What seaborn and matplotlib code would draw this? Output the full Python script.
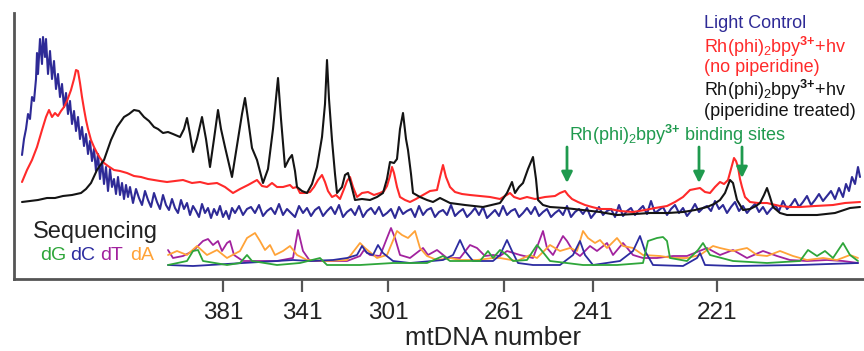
import matplotlib
matplotlib.use("Agg")
import matplotlib.pyplot as plt
import seaborn as sns
import pandas as pd

# ---------------- data (x: migration position, y: intensity) ----------------
light_pts = [(22, 124), (24, 140), (26, 150), (28, 165), (30, 160), (32, 182), (34, 178), (36, 200), (37, 226),
             (38, 205), (40, 240), (42, 215), (43, 242), (45, 222), (46, 240), (48, 205), (50, 228), (52, 200),
             (54, 218), (56, 190), (58, 205), (60, 182), (62, 195), (64, 172), (66, 186), (68, 165), (70, 178),
             (72, 155), (74, 168), (76, 148), (78, 162), (80, 140), (82, 152), (84, 133), (86, 145), (88, 125),
             (90, 138), (92, 118), (94, 130), (96, 108), (98, 125), (100, 100), (102, 118), (104, 95), (106, 112),
             (108, 88), (110, 110), (112, 92), (114, 100), (116, 85), (118, 102), (120, 84), (122, 96), (124, 80),
             (126, 94), (128, 82), (130, 92),
             (133, 76), (136, 90), (139, 81), (142, 74), (145, 88), (148, 79), (151, 72), (154, 86), (157, 77),
             (160, 70), (163, 84), (166, 74), (169, 69), (172, 80), (175, 71), (178, 66), (181, 79), (184, 70),
             (187, 76), (190, 64), (193, 73), (196, 68), (199, 62), (202, 75), (205, 66), (208, 71), (211, 61),
             (214, 70), (217, 64), (220, 73), (223, 62), (226, 68), (229, 60), (232, 71), (235, 66),
             (239, 73), (243, 64), (247, 70), (251, 72), (255, 66), (259, 74), (263, 63), (267, 68), (271, 71),
             (275, 65), (279, 75), (283, 64), (287, 70), (291, 66), (295, 62), (299, 73), (303, 66), (307, 71),
             (311, 63), (315, 69), (319, 72), (323, 63), (327, 68), (331, 72), (335, 65), (339, 74), (343, 62),
             (347, 67), (351, 70), (355, 64), (359, 73), (363, 62), (367, 68), (371, 71), (375, 65), (379, 72),
             (383, 63), (387, 66), (391, 70), (395, 61), (399, 72), (403, 65), (407, 68), (411, 70), (415, 62),
             (419, 73), (423, 64), (427, 69), (431, 71), (435, 62), (439, 67), (443, 69), (447, 64), (451, 74),
             (455, 63), (459, 67), (463, 70), (467, 62), (471, 66), (475, 71), (479, 64), (483, 72), (487, 61),
             (491, 65), (495, 69), (499, 63), (503, 73), (507, 64), (511, 68), (515, 70), (519, 62), (523, 66),
             (527, 71), (531, 65), (535, 72), (539, 63), (543, 67), (547, 70), (551, 62), (555, 66), (559, 69),
             (563, 64), (567, 73), (571, 62), (575, 67), (579, 70), (583, 65), (587, 71), (591, 61), (595, 66),
             (599, 72), (603, 64), (607, 68), (611, 70), (615, 62), (619, 74), (623, 63), (627, 68), (631, 71),
             (635, 64), (639, 69), (643, 73), (647, 65), (651, 78), (655, 66), (659, 69), (663, 72), (667, 64),
             (671, 70), (675, 74), (679, 66), (683, 71), (687, 63), (691, 68), (695, 75), (699, 67), (703, 71),
             (707, 73), (711, 68), (715, 78), (719, 70), (723, 74), (727, 66), (731, 72), (735, 77), (739, 68),
             (743, 73), (747, 66), (751, 71), (755, 75), (759, 67), (763, 72), (767, 65), (771, 70), (775, 74),
             (779, 68), (783, 78), (787, 70), (791, 74), (795, 80), (799, 72), (803, 77), (807, 83), (811, 74),
             (815, 79), (819, 85), (823, 78), (827, 83), (831, 88), (835, 80), (839, 91), (843, 82), (846, 95),
             (849, 88), (852, 102), (855, 95), (858, 112), (860, 102)]

noPip_x = [22, 27, 32, 37, 42, 46, 49, 52, 55, 58, 61, 64, 67, 71, 74, 76, 78, 80, 82, 84, 86, 88, 91, 94, 97, 100,
           104, 108, 114, 120, 127, 134, 141, 148, 154, 160, 167, 175, 183, 192, 200, 208, 217, 225, 233, 240, 248,
           257, 262, 267, 272, 277, 283, 290, 293, 297, 300, 305, 310, 314, 318, 322, 325, 328, 332, 336, 340, 344,
           347, 350, 353, 357, 362, 368, 374, 380, 384, 387, 390, 392, 394, 397, 400, 405, 410, 416, 423, 430, 437,
           440, 443, 446, 450, 455, 462, 470, 480, 490, 500, 505, 510, 514, 520, 527, 535, 545, 555, 560, 565, 568,
           572, 578, 585, 592, 600, 610, 620, 633, 645, 655, 667, 675, 683, 690, 695, 700, 705, 710, 715, 720, 724,
           728, 731, 734, 736, 738, 740, 742, 745, 750, 758, 767, 780, 790, 800, 815, 833, 845, 860]
noPip_y = [97, 109, 119, 132, 149, 162, 169, 162, 166, 163, 168, 172, 178, 189, 200, 209, 208, 196, 182, 170, 159,
           150, 139, 132, 126, 121, 116, 113, 109, 108, 106, 103, 102, 100, 99, 98, 97, 98, 99, 96, 97, 95, 96, 92,
           86, 90, 94, 99, 93, 92, 96, 92, 92, 94, 91, 92, 86, 86, 87, 92, 99, 104, 97, 88, 82, 84, 80, 90, 98, 102,
           92, 82, 86, 87, 84, 86, 88, 93, 103, 112, 106, 92, 82, 79, 77, 80, 84, 88, 89, 102, 114, 102, 92, 87, 85,
           84, 83, 82, 80, 83, 86, 82, 80, 82, 80, 82, 83, 86, 88, 84, 80, 77, 74, 72, 70, 70, 68, 67, 69, 71, 73, 77,
           82, 89, 90, 91, 87, 86, 92, 97, 95, 99, 110, 121, 118, 112, 100, 92, 82, 77, 76, 76, 73, 72, 72, 73, 74,
           76, 77]

pip_x = [22, 30, 38, 47, 55, 63, 72, 81, 86, 91, 97, 104, 111, 117, 124, 129, 134, 139, 144, 149, 154, 158, 163,
         168, 173, 180, 184, 187, 190, 193, 197, 202, 206, 210, 214, 218, 221, 225, 232, 238, 242, 245, 248, 252,
         257, 263, 268, 273, 278, 281, 285, 289, 292, 295, 297, 302, 307, 312, 317, 320, 322, 325, 327, 329, 332,
         335, 337, 342, 345, 348, 351, 355, 362, 370, 377, 383, 387, 390, 394, 397, 400, 403, 406, 408, 411, 413,
         420, 427, 433, 440, 450, 465, 483, 500, 507, 512, 515, 519, 523, 528, 533, 536, 538, 543, 550, 565, 583,
         600, 617, 635, 650, 668, 683, 695, 707, 714, 720, 725, 730, 733, 737, 743, 750, 756, 760, 764, 767, 770,
         773, 780, 787, 800, 817, 835, 850, 860]
pip_y = [77, 78, 79, 81, 81, 83, 84, 86, 90, 96, 109, 119, 139, 152, 162, 165, 169, 168, 162, 158, 152, 150, 146,
         147, 145, 142, 150, 161, 145, 127, 140, 162, 140, 112, 140, 169, 150, 132, 102, 140, 165, 181, 160, 131,
         119, 96, 110, 150, 201, 160, 112, 120, 124, 108, 92, 88, 86, 95, 112, 130, 142, 175, 219, 180, 139, 105,
         86, 92, 104, 106, 95, 79, 80, 79, 82, 86, 100, 117, 116, 120, 150, 166, 140, 129, 105, 86, 82, 79, 77, 81,
         76, 74, 72, 76, 86, 97, 86, 92, 96, 110, 122, 100, 79, 74, 72, 71, 69, 67, 64, 65, 66, 66, 67, 69, 72, 75,
         79, 86, 99, 96, 79, 69, 70, 73, 76, 84, 91, 82, 72, 66, 64, 64, 64, 66, 71, 72]

# sequencing lanes (intensity above the lane baseline)
seq_base = 13
seqG_x = [168, 187, 193, 198, 203, 227, 240, 247, 252, 277, 300, 320, 327, 360, 393, 427, 443, 450, 480, 488, 493,
          500, 507, 513, 527, 537, 542, 550, 583, 617, 643, 648, 657, 663, 667, 670, 687, 698, 703, 710, 733, 767,
          800, 808, 817, 825, 833, 843, 850, 858]
seqG_h = [1, 5, 15, 16, 5, 1, 3, 11, 5, 1, 3, 8, 1, 1, 3, 3, 10, 5, 5, 15, 8, 16, 11, 5, 6, 21, 15, 5, 1, 1, 3,
          25, 28, 29, 25, 8, 5, 16, 23, 11, 5, 3, 5, 16, 10, 15, 8, 23, 11, 5]
seqC_x = [168, 193, 210, 243, 277, 293, 310, 333, 347, 357, 362, 367, 373, 378, 383, 393, 410, 443, 453, 460, 465,
          473, 493, 500, 507, 512, 518, 533, 560, 573, 580, 585, 593, 620, 633, 640, 645, 653, 683, 697, 700, 705,
          733, 800, 858]
seqC_h = [1, 0, 1, 3, 5, 6, 5, 6, 8, 11, 20, 13, 11, 21, 13, 5, 3, 6, 11, 26, 15, 5, 5, 11, 26, 15, 3, 1, 1, 11,
          25, 11, 1, 5, 15, 30, 15, 1, 0, 8, 13, 1, 0, 1, 3]
seqT_x = [168, 173, 183, 193, 203, 208, 213, 218, 222, 227, 230, 234, 243, 260, 277, 293, 298, 303, 310, 327, 347,
          360, 364, 370, 380, 387, 391, 395, 400, 410, 423, 428, 437, 447, 460, 470, 477, 485, 493, 500, 507, 520,
          533, 543, 547, 553, 563, 567, 573, 580, 590, 597, 607, 613, 623, 633, 643, 657, 673, 687, 707, 720, 733,
          747, 763, 777, 790, 807, 827, 843, 858]
seqT_h = [16, 8, 10, 15, 25, 27, 21, 25, 15, 23, 25, 11, 5, 5, 5, 8, 36, 15, 5, 5, 5, 10, 16, 11, 10, 28, 38, 28,
          11, 8, 18, 11, 16, 8, 8, 21, 18, 10, 11, 10, 15, 11, 8, 35, 18, 11, 30, 25, 15, 10, 20, 15, 23, 11, 23,
          11, 8, 8, 10, 10, 18, 11, 16, 8, 15, 10, 6, 5, 6, 5, 3]
seqA_x = [168, 177, 187, 197, 207, 217, 227, 240, 247, 255, 260, 265, 270, 275, 283, 290, 297, 307, 327, 347, 360,
          365, 377, 387, 397, 402, 408, 415, 420, 427, 437, 450, 460, 477, 493, 500, 517, 530, 537, 550, 560, 570,
          577, 583, 588, 595, 600, 607, 617, 623, 633, 643, 660, 673, 687, 700, 713, 720, 733, 747, 757, 767, 780,
          793, 807, 823, 837, 850, 858]
seqA_h = [11, 15, 11, 20, 11, 16, 8, 15, 28, 33, 25, 16, 21, 11, 15, 20, 11, 6, 5, 6, 23, 18, 8, 11, 35, 31, 28,
          35, 18, 10, 6, 8, 6, 6, 8, 8, 5, 11, 8, 21, 15, 18, 15, 35, 28, 23, 26, 18, 28, 20, 18, 11, 10, 8, 8, 11,
          20, 18, 15, 18, 11, 10, 15, 10, 6, 8, 6, 11, 8]

tick_pos = [223, 302, 388, 504, 593, 717]
tick_labels = ["381", "341", "301", "261", "241", "221"]
arrow_x = [567, 699, 742]
arrow_tip = [96, 96, 101]
arrow_tail = 132

# ---------------- styling ----------------
sns.set_style("white")
plt.rcParams["font.family"] = ["Liberation Sans", "DejaVu Sans"]
plt.rcParams["mathtext.fontset"] = "custom"
plt.rcParams["mathtext.rm"] = "Liberation Sans"
plt.rcParams["mathtext.bf"] = "Liberation Sans:bold"

C_BLUE = "#2e2a96"
C_RED = "#ff2a2a"
C_BLACK = "#141414"
C_GREEN_T = "#1f9a4e"
S_G, S_C, S_T, S_A = "#2ea63a", "#2c2ca0", "#a2229e", "#ffa338"

fig = plt.figure(figsize=(8.64, 3.51), dpi=100)
ax = fig.add_axes([14 / 864, 72 / 351, 850 / 864, 266 / 351])


def trace(xs, ys, color, lw):
    df = pd.DataFrame({"x": list(xs), "y": list(ys)})
    sns.lineplot(data=df, x="x", y="y", color=color, lw=lw, sort=False, estimator=None, ax=ax)


for xs, hs, col in [(seqT_x, seqT_h, S_T), (seqA_x, seqA_h, S_A), (seqC_x, seqC_h, S_C), (seqG_x, seqG_h, S_G)]:
    trace(xs, [h + seq_base for h in hs], col, 1.3)

light_x, light_y = zip(*light_pts)
trace(light_x, light_y, C_BLUE, 1.5)
trace(noPip_x, noPip_y, C_RED, 1.5)
trace(pip_x, pip_y, C_BLACK, 1.5)

ax.set_xlim(14, 864)
ax.set_ylim(0, 266)
ax.set_xticks(tick_pos)
ax.set_xticklabels(tick_labels, fontsize=17.5, color="#222222")
ax.set_yticks([])
ax.set_ylabel("")
ax.tick_params(axis="x", bottom=True, direction="out", length=9.5, width=1.6, color="#555555", pad=7)
ax.set_xlabel("mtDNA number", fontsize=18.5, color="#222222")
ax.xaxis.label.set_va("baseline")
ax.xaxis.set_label_coords((493 - 14) / 850, -(345 - 279) / 266)
for s in ["top", "right"]:
    ax.spines[s].set_visible(False)
for s in ["left", "bottom"]:
    ax.spines[s].set_color("#555555")
    ax.spines[s].set_linewidth(2.0)

# legend-like labels
fs = 13
sup = r"$^{\mathbf{3{+}}}$"
ax.text(704, 256, "Light Control", color=C_BLUE, fontsize=fs, va="center")
ax.text(704, 232, r"Rh(phi)$_{2}$bpy" + sup + "+hv", color=C_RED, fontsize=fs, va="center")
ax.text(704, 211, "(no piperidine)", color=C_RED, fontsize=fs, va="center")
ax.text(704, 189, r"Rh(phi)$_{2}$bpy" + sup + "+hv", color=C_BLACK, fontsize=fs, va="center")
ax.text(704, 167, "(piperidine treated)", color=C_BLACK, fontsize=fs, va="center")
ax.text(569, 144, r"Rh(phi)$_{2}$bpy" + sup + " binding sites", color=C_GREEN_T, fontsize=fs, va="center")

for xa, tip in zip(arrow_x, arrow_tip):
    ax.annotate("", xy=(xa, tip), xytext=(xa, arrow_tail),
                arrowprops=dict(arrowstyle="-|>", color=C_GREEN_T, lw=2.0, mutation_scale=16,
                                shrinkA=0, shrinkB=0))

ax.text(33, 47, "Sequencing", color="#222222", fontsize=17, va="center")
for lab, xp, col in [("dG", 40, S_G), ("dC", 70, S_C), ("dT", 100, S_T), ("dA", 130, S_A)]:
    ax.text(xp, 23, lab, color=col, fontsize=14, va="center")

fig.savefig("out.png", dpi=100)
